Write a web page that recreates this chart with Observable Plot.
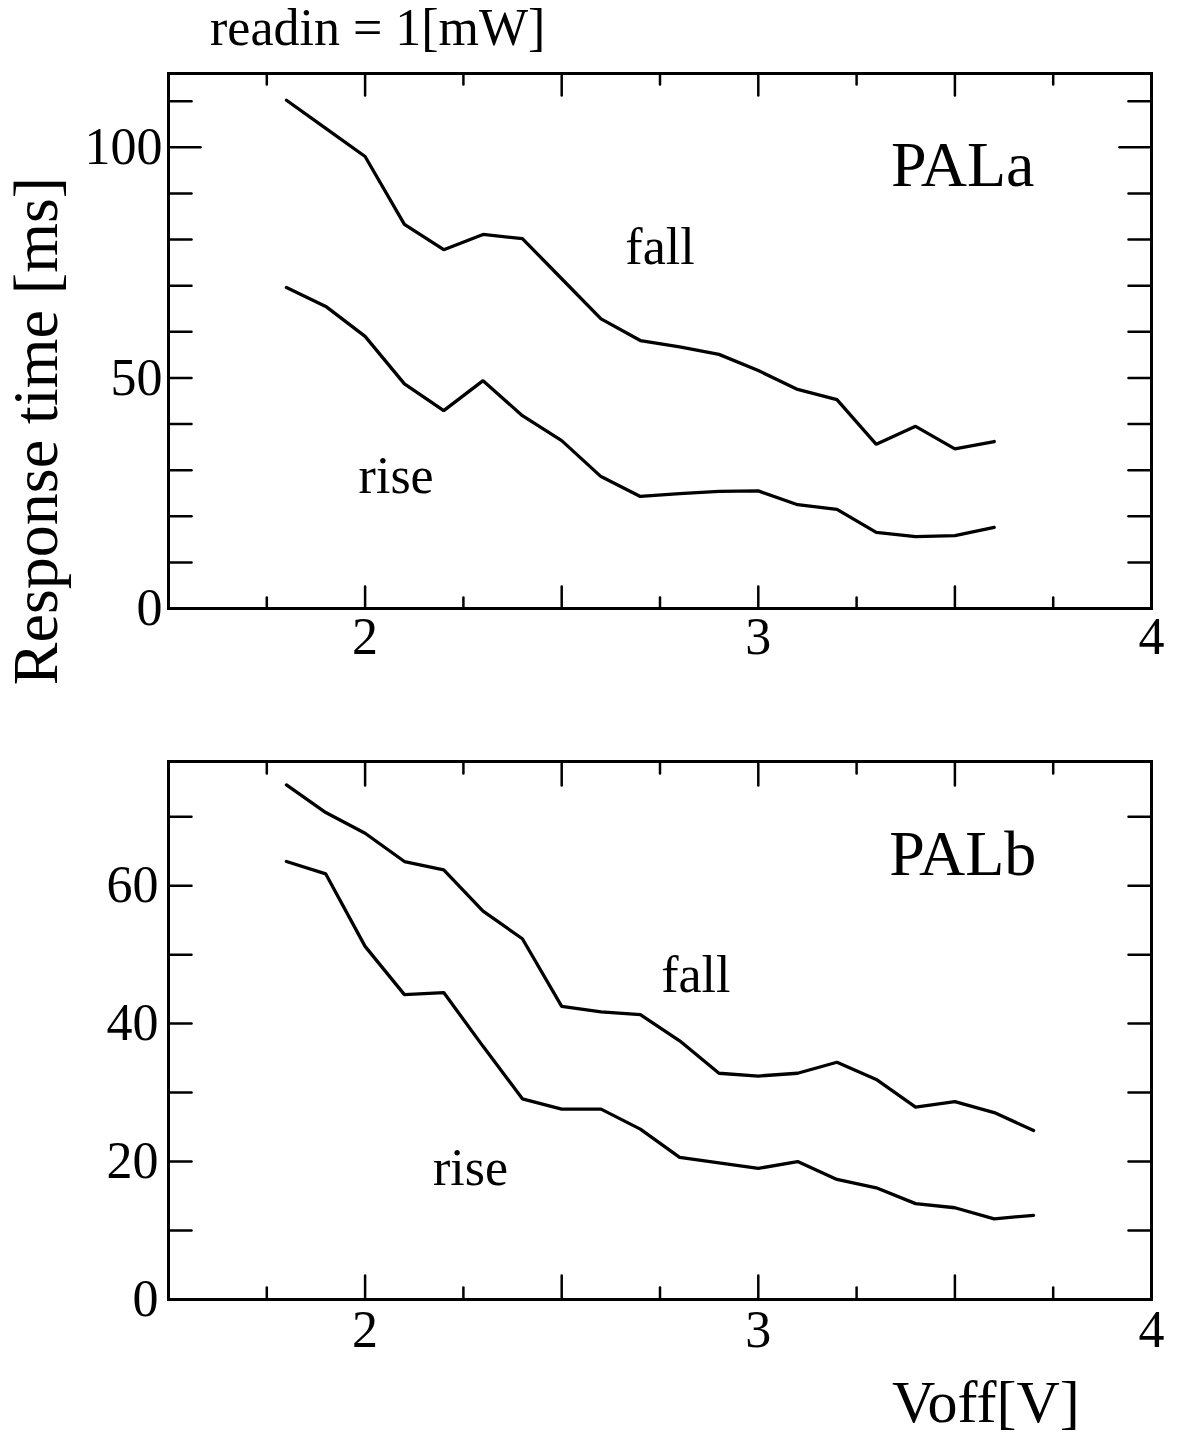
<!DOCTYPE html>
<html><head><meta charset="utf-8">
<script src="https://cdn.jsdelivr.net/npm/d3@7"></script>
<script src="https://cdn.jsdelivr.net/npm/@observablehq/plot@0.6"></script>
<style>
body{margin:0;background:#fff;}
#page{position:relative;width:1180px;height:1439px;background:#fff;font-family:"Liberation Serif",serif;color:#000;overflow:hidden}
.abs{position:absolute;white-space:nowrap}
</style></head><body>
<div id="page">
 <div class="abs" id="panelA" style="left:0;top:0"></div>
 <div class="abs" id="panelB" style="left:0;top:680px"></div>
 <div class="abs" id="title" style="left:210px;top:2px;font-size:52px;line-height:52px">readin = 1[mW]</div>
 <div class="abs" id="ylab" style="left:-263.6px;top:398.5px;width:600px;height:64px;font-size:64px;line-height:64px;text-align:center;transform:rotate(-90deg);transform-origin:center">Response time [ms]</div>
 <div class="abs" id="xlab" style="left:892px;top:1372px;font-size:60px;line-height:60px">Voff[V]</div>
</div>
<script>
// ---- data: PALa ----
const voffA = [1.8, 1.9, 2.0, 2.1, 2.2, 2.3, 2.4, 2.5, 2.6, 2.7, 2.8, 2.9, 3.0, 3.1, 3.2, 3.3, 3.4, 3.5, 3.6];
const fallA = [110.2, 104.1, 98.0, 83.3, 77.8, 81.1, 80.2, 71.5, 62.8, 58.1, 56.7, 55.1, 51.6, 47.5, 45.3, 35.6, 39.5, 34.6, 36.2];
const riseA = [69.6, 65.5, 59.0, 48.7, 42.9, 49.4, 41.8, 36.4, 28.6, 24.3, 24.9, 25.4, 25.5, 22.5, 21.5, 16.5, 15.6, 15.8, 17.6];
// ---- data: PALb ----
const voffB = [1.8, 1.9, 2.0, 2.1, 2.2, 2.3, 2.4, 2.5, 2.6, 2.7, 2.8, 2.9, 3.0, 3.1, 3.2, 3.3, 3.4, 3.5, 3.6, 3.7];
const fallB = [74.6, 70.6, 67.6, 63.5, 62.3, 56.3, 52.3, 42.5, 41.7, 41.3, 37.5, 32.8, 32.4, 32.8, 34.4, 31.9, 27.9, 28.7, 27.1, 24.5];
const riseB = [63.5, 61.7, 51.2, 44.2, 44.5, 36.7, 29.1, 27.6, 27.6, 24.7, 20.6, 19.8, 19.0, 20.0, 17.4, 16.2, 13.9, 13.3, 11.7, 12.2];
// ---- ticks ----
const xLabels = [2, 3, 4];
const xMajor = [2, 2.5, 3, 3.5];
const xMinor = [1.75, 2.25, 2.75, 3.25, 3.75];
const yLabelsA = [0, 50, 100];
const yMajorA = [100];
const yMinorA = [10, 20, 30, 40, 50, 60, 70, 80, 90, 110];
const yLabelsB = [0, 20, 40, 60];
const yMinorB = [10, 20, 30, 40, 50, 60, 70];
// ---- annotations ----
const annA = [{label: "PALa", v: 3.52, t: 91.6, size: 64}, {label: "fall", v: 2.75, t: 74.8, size: 52}, {label: "rise", v: 2.079, t: 25.0, size: 52}];
const annB = [{label: "PALb", v: 3.52, t: 61.5, size: 64}, {label: "fall", v: 2.841, t: 44.6, size: 52}, {label: "rise", v: 2.268, t: 16.6, size: 52}];

const tickShape = {draw(ctx, l) { ctx.moveTo(0, 0); ctx.lineTo(0, -l); }};
function tickMarks(vals, dim, len) {
  const common = {length: len, anchor: "start", shape: tickShape, stroke: "black", strokeWidth: 2.5};
  if (dim === "x") return [
    Plot.vector(vals, {...common, x: d => d, frameAnchor: "bottom", rotate: 0}),
    Plot.vector(vals, {...common, x: d => d, frameAnchor: "top", rotate: 180})
  ];
  return [
    Plot.vector(vals, {...common, y: d => d, frameAnchor: "left", rotate: 90}),
    Plot.vector(vals, {...common, y: d => d, frameAnchor: "right", rotate: -90})
  ];
}
function series(voff, fall, rise) {
  return [
    ...voff.map((v, i) => ({v, t: fall[i], kind: "fall"})),
    ...voff.map((v, i) => ({v, t: rise[i], kind: "rise"}))
  ];
}
const style = {fontFamily: "Liberation Serif", background: "transparent", color: "black", overflow: "visible"};

function panel(cfg) {
  return Plot.plot({
    width: 1180, height: cfg.height,
    marginTop: cfg.mt, marginBottom: cfg.mb, marginLeft: 168, marginRight: 29,
    style,
    x: {domain: [1.5, 4]},
    y: {domain: cfg.ydomain},
    marks: [
      Plot.line(cfg.data, {x: "v", y: "t", z: "kind", stroke: "black", strokeWidth: 3.3, strokeLinejoin: "miter"}),
      ...tickMarks(xMajor, "x", cfg.xMajorLen),
      ...tickMarks(xMinor, "x", cfg.xMinorLen),
      ...(cfg.yMajor.length ? tickMarks(cfg.yMajor, "y", 32) : []),
      ...tickMarks(cfg.yMinor, "y", 23),
      Plot.frame({stroke: "black", strokeWidth: 3}),
      Plot.axisX(xLabels, {anchor: "bottom", tickSize: 0, tickPadding: cfg.xPad, fontSize: 52, label: null, tickFormat: d => String(d)}),
      Plot.axisY(cfg.yLabels, {anchor: "left", tickSize: 0, tickPadding: cfg.yPad, fontSize: 52, label: null, tickFormat: d => String(d)}),
      Plot.text(cfg.ann, {x: "v", y: "t", text: "label", fontSize: d => d.size, lineAnchor: "bottom", textAnchor: "middle", fill: "black"})
    ]
  });
}

document.getElementById("panelA").append(panel({
  height: 680, mt: 73, mb: 72, ydomain: [0, 116], data: series(voffA, fallA, riseA),
  xMajorLen: 22, xMinorLen: 11, yMajor: yMajorA, yMinor: yMinorA, yLabels: yLabelsA,
  xPad: 9, yPad: 6, ann: annA
}));
document.getElementById("panelB").append(panel({
  height: 700, mt: 81, mb: 81, ydomain: [0, 78], data: series(voffB, fallB, riseB),
  xMajorLen: 24, xMinorLen: 12, yMajor: [], yMinor: yMinorB, yLabels: yLabelsB,
  xPad: 11, yPad: 10, ann: annB
}));
</script>
</body></html>
